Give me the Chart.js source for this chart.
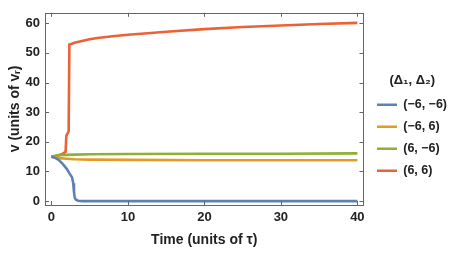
<!DOCTYPE html>
<html>
<head>
<meta charset="utf-8">
<script src="https://cdn.jsdelivr.net/npm/chart.js@4.4.1/dist/chart.umd.min.js"></script>
<style>
  body { margin: 0; background: #fff; }
  #wrap { width: 452px; height: 253px; }
</style>
</head>
<body>
<div id="wrap"><canvas id="grafico" width="452" height="253"></canvas></div>
<script>
// dati
const seriesNames = ["(\u22126, \u22126)", "(\u22126, 6)", "(6, \u22126)", "(6, 6)"];
const seriesColors = ["#5E81B5", "#E19C24", "#8FB032", "#EB6235"];

const tBlue = [0, 0.5, 1, 1.5, 2, 2.4, 2.7, 2.85, 2.95, 3.05, 3.2, 3.5, 4, 5, 10, 20, 30, 40];
const vBlue = [15, 14.6, 13.8, 12.5, 10.9, 9.2, 8, 6, 3, 1.2, 0.5, 0.15, 0, 0, 0, 0, 0, 0];

const tOrange = [0, 0.5, 1, 2, 3, 5, 10, 20, 30, 40];
const vOrange = [15, 14.7, 14.5, 14.3, 14.1, 14, 13.9, 13.8, 13.8, 13.8];

const tGreen = [0, 0.5, 1, 2, 3, 5, 10, 20, 30, 40];
const vGreen = [15, 15.3, 15.5, 15.6, 15.7, 15.8, 15.9, 16, 16, 16.1];

const tRed = [0, 0.5, 1, 1.5, 1.85, 1.95, 2.15, 2.25, 2.35, 2.6, 3, 4, 5, 6, 8, 10, 13, 15, 20, 25, 30, 35, 40];
const vRed = [15, 15.2, 15.5, 16, 16.6, 22, 23, 23.5, 52.8, 53, 53.4, 54, 54.6, 55, 55.6, 56.1, 56.7, 57.1, 58, 58.7, 59.2, 59.7, 60.1];

const xTicks = [0, 10, 20, 30, 40];
const yTicks = [0, 10, 20, 30, 40, 50, 60];

function punti(t, v){
    let out = [];
    for(let i = 0; i < t.length; i++){
        out.push({x: t[i], y: v[i]});
    }
    return out;
}

const serie = [
    punti(tBlue, vBlue),
    punti(tOrange, vOrange),
    punti(tGreen, vGreen),
    punti(tRed, vRed)
];

let datasets = [];
for(let i = 0; i < serie.length; i++){
    datasets.push({
        label: seriesNames[i],
        data: serie[i],
        borderColor: seriesColors[i],
        backgroundColor: seriesColors[i],
        borderWidth: 2.6,
        pointRadius: 0,
        tension: 0,
        fill: false
    });
}

const FONT = "'Liberation Sans', Arial, sans-serif";

// cornice e tacche interne alla Mathematica
const cornice = {
    id: "cornice",
    afterUpdate(chart){
        // sposta un po' la legenda a destra
        let lg = chart.legend;
        if(lg){
            lg.left += 4;
            lg.right += 4;
            lg.adjustHitBoxes();
        }
    },
    afterDraw(chart){
        let ctx = chart.ctx;
        let a = chart.chartArea;
        ctx.save();
        ctx.strokeStyle = "#666";
        ctx.lineWidth = 1;
        ctx.strokeRect(Math.round(a.left) + 0.5, Math.round(a.top) + 0.5,
                       Math.round(a.right - a.left), Math.round(a.bottom - a.top));
        let xs = chart.scales.x, ys = chart.scales.y;
        ctx.beginPath();
        for(let v of xTicks){
            let px = Math.round(xs.getPixelForValue(v)) + 0.5;
            ctx.moveTo(px, a.bottom); ctx.lineTo(px, a.bottom - 4);
            ctx.moveTo(px, a.top); ctx.lineTo(px, a.top + 4);
        }
        for(let v of yTicks){
            let py = Math.round(ys.getPixelForValue(v)) + 0.5;
            ctx.moveTo(a.left, py); ctx.lineTo(a.left + 4, py);
            ctx.moveTo(a.right, py); ctx.lineTo(a.right - 4, py);
        }
        ctx.stroke();
        ctx.restore();
    }
};

new Chart(document.getElementById("grafico"), {
    type: "line",
    data: { datasets: datasets },
    plugins: [cornice],
    options: {
        responsive: false,
        animation: false,
        layout: { padding: { top: 7, right: -1, left: 0, bottom: 0 } },
        plugins: {
            legend: {
                position: "right",
                title: {
                    display: true,
                    text: "(\u0394\u2081, \u0394\u2082)",
                    color: "#222",
                    font: { family: FONT, size: 13, weight: "bold" },
                    padding: { top: 0, bottom: 0 }
                },
                labels: {
                    usePointStyle: true,
                    pointStyle: "line",
                    pointStyleWidth: 20,
                    color: "#222",
                    font: { family: FONT, size: 12.5, weight: "bold" },
                    padding: 9.5
                }
            },
            tooltip: { enabled: false }
        },
        scales: {
            x: {
                type: "linear",
                min: -0.84,
                max: 40.8,
                afterBuildTicks: s => { s.ticks = xTicks.map(v => ({value: v})); },
                afterFit: s => { s.height = 48; },
                grid: { display: false, drawTicks: false },
                border: { display: false },
                ticks: {
                    color: "#222",
                    padding: 5,
                    font: { family: FONT, size: 13, weight: "bold" }
                },
                title: {
                    display: true,
                    text: "Time (units of \u03C4)",
                    color: "#222",
                    font: { family: FONT, size: 14, weight: "bold" },
                    padding: { top: 2 }
                }
            },
            y: {
                type: "linear",
                min: -1.3,
                max: 63.5,
                afterBuildTicks: s => { s.ticks = yTicks.map(v => ({value: v})); },
                afterFit: s => { s.width = 45; },
                grid: { display: false, drawTicks: false },
                border: { display: false },
                ticks: {
                    color: "#222",
                    padding: 5,
                    font: { family: FONT, size: 13, weight: "bold" }
                },
                title: {
                    display: true,
                    text: "v (units of v\u1D63)",
                    color: "#222",
                    font: { family: FONT, size: 14, weight: "bold" },
                    padding: { top: 7, bottom: 0 }
                }
            }
        }
    }
});
</script>
</body>
</html>
